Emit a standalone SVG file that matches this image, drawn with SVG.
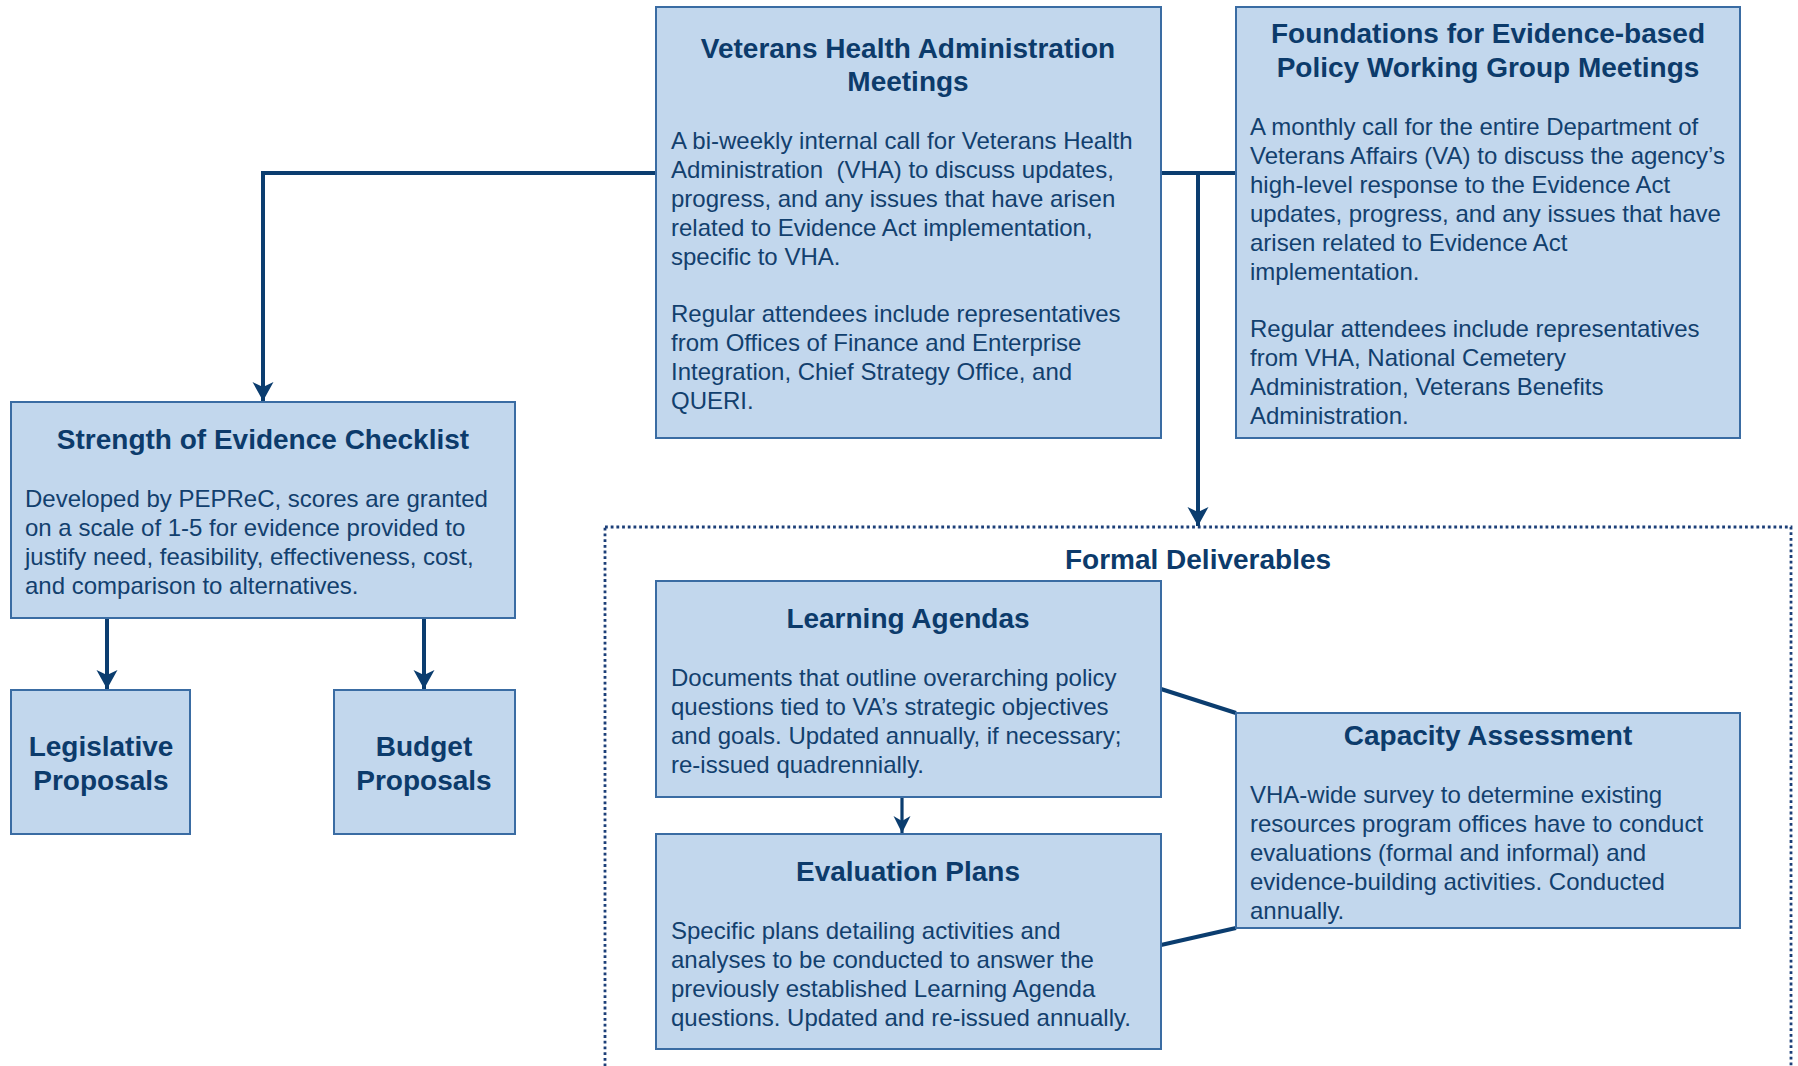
<svg xmlns="http://www.w3.org/2000/svg" width="1798" height="1066" viewBox="0 0 1798 1066">
  <style>
    .box { fill: #c2d7ed; stroke: #3a6ca3; stroke-width: 2; }
    .ttl { font-family: "Liberation Sans", Arial, sans-serif; font-weight: bold; font-size: 28px; fill: #0c3b6b; text-anchor: middle; }
    .txt { font-family: "Liberation Sans", Arial, sans-serif; font-size: 24px; fill: #12406e; white-space: pre; }
    .wire { fill: none; stroke: #0b3d6f; stroke-width: 4; }
    .thin { fill: none; stroke: #0b3d6f; stroke-width: 3.2; }
    .group { fill: none; stroke: #1c3f78; stroke-width: 2.8; stroke-dasharray: 2.8 2.9; }
  </style>
  <defs>
    <marker id="head" markerUnits="userSpaceOnUse" markerWidth="24" markerHeight="24" viewBox="-20 -12 22 24" refX="0" refY="0" orient="auto">
      <path d="M0,0 L-19,-10.5 L-14,0 L-19,10.5 Z" fill="#0b3d6f"/>
    </marker>
    <marker id="headSm" markerUnits="userSpaceOnUse" markerWidth="24" markerHeight="24" viewBox="-20 -12 22 24" refX="0" refY="0" orient="auto">
      <path d="M0,0 L-17,-8.5 L-12,0 L-17,8.5 Z" fill="#0b3d6f"/>
    </marker>
  </defs>

  <rect width="1798" height="1066" fill="#ffffff"/>

  <!-- Formal deliverables container -->
  <g id="formal-deliverables">
    <rect class="group" x="605" y="527" width="1186" height="560"/>
    <text class="ttl" x="1198" y="569">Formal Deliverables</text>
  </g>

  <!-- Connectors -->
  <g id="connectors">
    <path class="wire" d="M656,173 H263 V401" marker-end="url(#head)"/>
    <path class="wire" d="M1161,173 H1236"/>
    <path class="wire" d="M1198,173 V526" marker-end="url(#head)"/>
    <path class="wire" d="M107,619 V689" marker-end="url(#head)"/>
    <path class="wire" d="M424,619 V689" marker-end="url(#head)"/>
    <path class="thin" d="M902,798 V833" marker-end="url(#headSm)"/>
    <path class="wire" d="M1161,689 L1236,713"/>
    <path class="wire" d="M1161,945 L1236,928"/>
  </g>

  <g id="vha-meetings">
    <rect class="box" x="656" y="7" width="505" height="431"/>
    <text class="ttl" x="908" y="58">Veterans Health Administration</text>
    <text class="ttl" x="908" y="91">Meetings</text>
    <text class="txt" x="671" y="149">A bi-weekly internal call for Veterans Health</text>
    <text class="txt" x="671" y="178">Administration  (VHA) to discuss updates,</text>
    <text class="txt" x="671" y="207">progress, and any issues that have arisen</text>
    <text class="txt" x="671" y="236">related to Evidence Act implementation,</text>
    <text class="txt" x="671" y="265">specific to VHA.</text>
    <text class="txt" x="671" y="322">Regular attendees include representatives</text>
    <text class="txt" x="671" y="351">from Offices of Finance and Enterprise</text>
    <text class="txt" x="671" y="380">Integration, Chief Strategy Office, and</text>
    <text class="txt" x="671" y="409">QUERI.</text>
  </g>

  <g id="febp-meetings">
    <rect class="box" x="1236" y="7" width="504" height="431"/>
    <text class="ttl" x="1488" y="43">Foundations for Evidence-based</text>
    <text class="ttl" x="1488" y="77">Policy Working Group Meetings</text>
    <text class="txt" x="1250" y="135">A monthly call for the entire Department of</text>
    <text class="txt" x="1250" y="164">Veterans Affairs (VA) to discuss the agency’s</text>
    <text class="txt" x="1250" y="193">high-level response to the Evidence Act</text>
    <text class="txt" x="1250" y="222">updates, progress, and any issues that have</text>
    <text class="txt" x="1250" y="251">arisen related to Evidence Act</text>
    <text class="txt" x="1250" y="280">implementation.</text>
    <text class="txt" x="1250" y="337">Regular attendees include representatives</text>
    <text class="txt" x="1250" y="366">from VHA, National Cemetery</text>
    <text class="txt" x="1250" y="395">Administration, Veterans Benefits</text>
    <text class="txt" x="1250" y="424">Administration.</text>
  </g>

  <g id="evidence-checklist">
    <rect class="box" x="11" y="402" width="504" height="216"/>
    <text class="ttl" x="263" y="449">Strength of Evidence Checklist</text>
    <text class="txt" x="25" y="507">Developed by PEPReC, scores are granted</text>
    <text class="txt" x="25" y="536">on a scale of 1-5 for evidence provided to</text>
    <text class="txt" x="25" y="565">justify need, feasibility, effectiveness, cost,</text>
    <text class="txt" x="25" y="594">and comparison to alternatives.</text>
  </g>

  <g id="legislative-proposals">
    <rect class="box" x="11" y="690" width="179" height="144"/>
    <text class="ttl" x="101" y="756">Legislative</text>
    <text class="ttl" x="101" y="790">Proposals</text>
  </g>

  <g id="budget-proposals">
    <rect class="box" x="334" y="690" width="181" height="144"/>
    <text class="ttl" x="424" y="756">Budget</text>
    <text class="ttl" x="424" y="790">Proposals</text>
  </g>

  <g id="learning-agendas">
    <rect class="box" x="656" y="581" width="505" height="216"/>
    <text class="ttl" x="908" y="628">Learning Agendas</text>
    <text class="txt" x="671" y="686">Documents that outline overarching policy</text>
    <text class="txt" x="671" y="715">questions tied to VA’s strategic objectives</text>
    <text class="txt" x="671" y="744">and goals. Updated annually, if necessary;</text>
    <text class="txt" x="671" y="773">re-issued quadrennially.</text>
  </g>

  <g id="evaluation-plans">
    <rect class="box" x="656" y="834" width="505" height="215"/>
    <text class="ttl" x="908" y="881">Evaluation Plans</text>
    <text class="txt" x="671" y="939">Specific plans detailing activities and</text>
    <text class="txt" x="671" y="968">analyses to be conducted to answer the</text>
    <text class="txt" x="671" y="997">previously established Learning Agenda</text>
    <text class="txt" x="671" y="1026">questions. Updated and re-issued annually.</text>
  </g>

  <g id="capacity-assessment">
    <rect class="box" x="1236" y="713" width="504" height="215"/>
    <text class="ttl" x="1488" y="745">Capacity Assessment</text>
    <text class="txt" x="1250" y="803">VHA-wide survey to determine existing</text>
    <text class="txt" x="1250" y="832">resources program offices have to conduct</text>
    <text class="txt" x="1250" y="861">evaluations (formal and informal) and</text>
    <text class="txt" x="1250" y="890">evidence-building activities. Conducted</text>
    <text class="txt" x="1250" y="919">annually.</text>
  </g>
</svg>
